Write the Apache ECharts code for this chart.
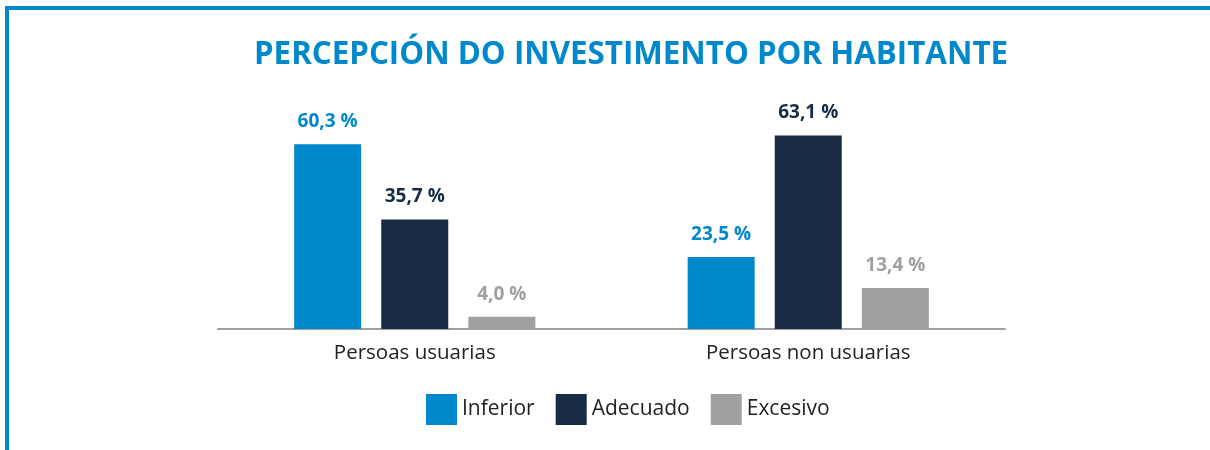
<!DOCTYPE html>
<html>
<head>
<meta charset="utf-8">
<script src="https://cdn.jsdelivr.net/npm/echarts@6/dist/echarts.min.js"></script>
<style>
  html, body { margin: 0; padding: 0; background: #fff; }
  #chart { width: 1210px; height: 450px; }
</style>
</head>
<body>
<div id="chart"></div>
<script>
// Survey groups and answer shares (%)
const categories = ['Persoas usuarias', 'Persoas non usuarias'];
const seriesNames = ['Inferior', 'Adecuado', 'Excesivo'];
const inferior = [60.3, 23.5];
const adecuado = [35.7, 63.1];
const excesivo = [4.0, 13.4];
const colors = ['#0088cc', '#172b45', '#a0a0a0'];

const FONT = '"Open Sans", "Noto Sans", sans-serif';

function fmt(v) {
  return v.toFixed(1).replace('.', ',') + ' %';
}

function barSeries(name, data, color) {
  return {
    name: name,
    type: 'bar',
    data: data,
    barWidth: 67,
    barGap: '30%',
    itemStyle: { color: color },
    label: {
      show: true,
      position: 'top',
      distance: 13,
      color: color,
      fontFamily: FONT,
      fontWeight: 'bold',
      fontSize: 19,
      formatter: p => fmt(p.value)
    }
  };
}

const chart = echarts.init(document.getElementById('chart'), null, { renderer: 'canvas' });
chart.setOption({
  animation: false,
  title: {
    text: 'PERCEPCIÓN DO INVESTIMENTO POR HABITANTE',
    left: 626,
    textAlign: 'center',
    top: 35,
    textStyle: {
      color: '#0088cc',
      fontFamily: FONT,
      fontWeight: 'bold',
      fontSize: 31.3
    }
  },
  legend: {
    data: seriesNames,
    left: 426,
    top: 394,
    padding: 0,
    itemWidth: 31,
    itemHeight: 31,
    itemGap: 21,
    icon: 'rect',
    textStyle: { fontFamily: FONT, fontSize: 21, color: '#222' }
  },
  grid: { left: 218, right: 205, top: 119, bottom: 121 },
  xAxis: {
    type: 'category',
    data: categories,
    axisLine: { lineStyle: { color: '#a0a0a0', width: 2 } },
    axisTick: { show: false },
    axisLabel: { fontFamily: FONT, fontSize: 20.5, color: '#222', margin: 14 }
  },
  yAxis: {
    type: 'value',
    min: 0,
    max: 68.5,
    show: false
  },
  series: [
    barSeries(seriesNames[0], inferior, colors[0]),
    barSeries(seriesNames[1], adecuado, colors[1]),
    barSeries(seriesNames[2], excesivo, colors[2])
  ],
  graphic: [
    { type: 'rect', shape: { x: 5, y: 6, width: 4, height: 444 }, style: { fill: '#0088cc' } },
    { type: 'rect', shape: { x: 5, y: 6, width: 1205, height: 4 }, style: { fill: '#0088cc' } }
  ]
});
</script>
</body>
</html>
